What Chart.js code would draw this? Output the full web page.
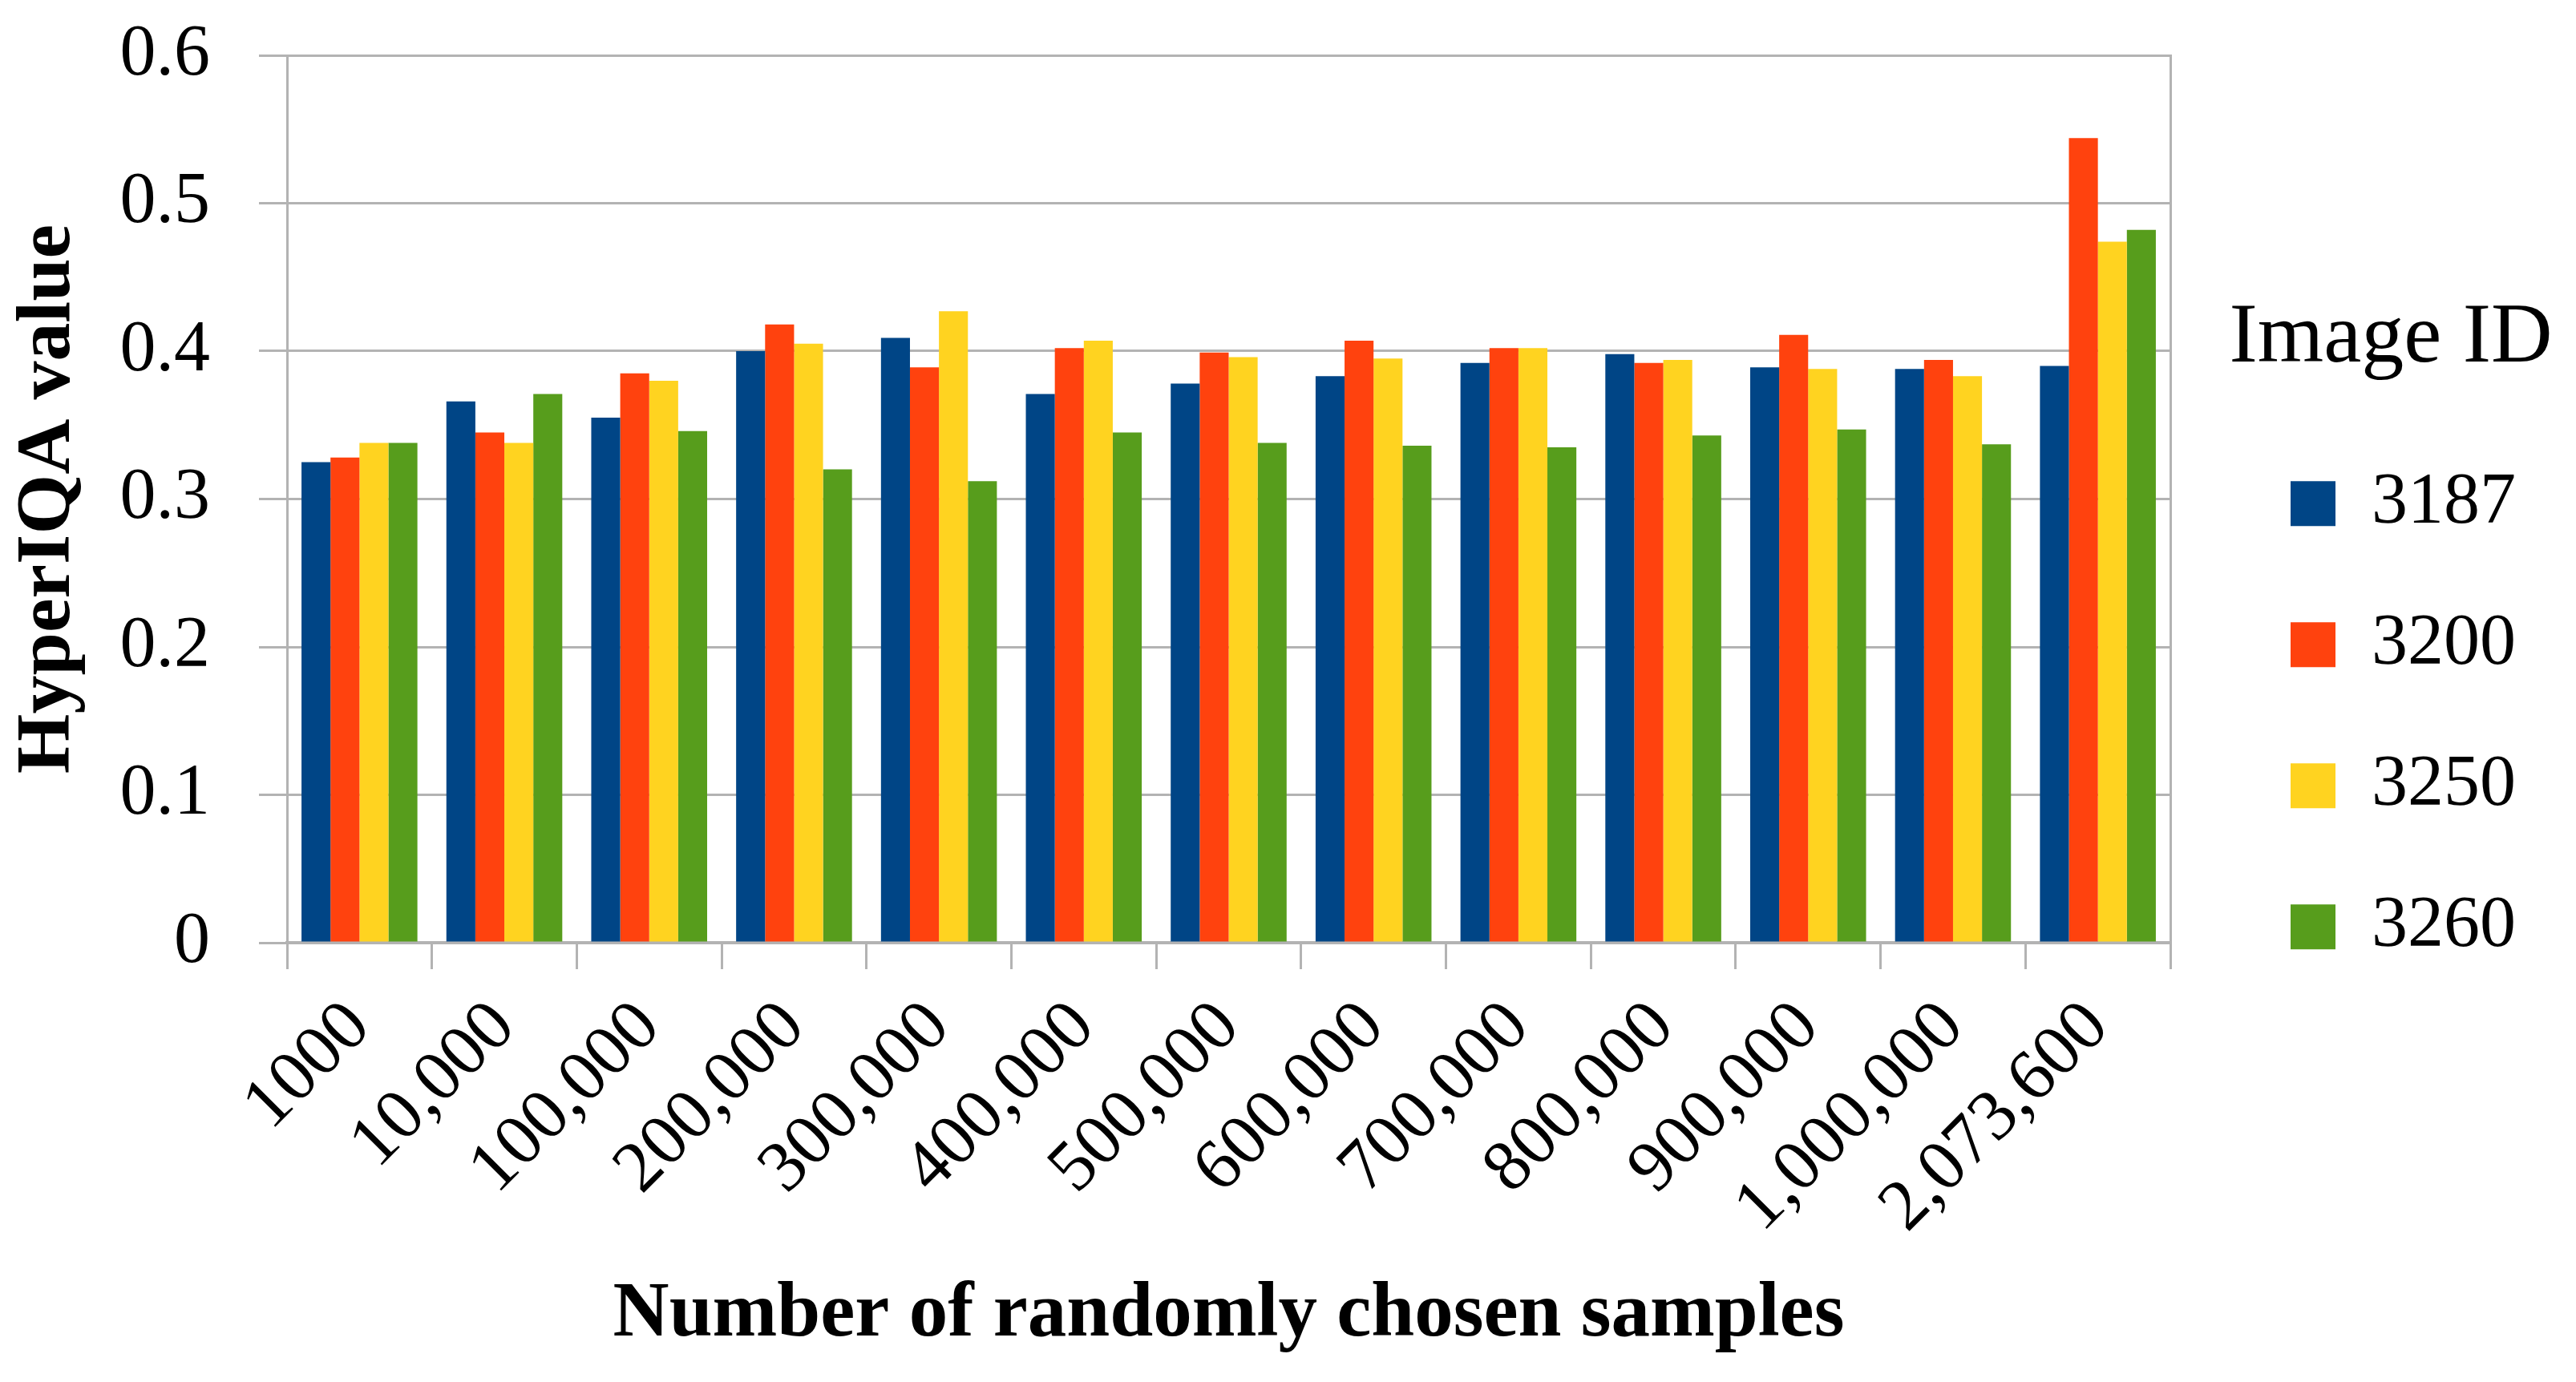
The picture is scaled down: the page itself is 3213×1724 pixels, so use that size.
<!DOCTYPE html>
<html>
<head>
<meta charset="utf-8">
<script src="https://cdn.jsdelivr.net/npm/chart.js@4.4.0/dist/chart.umd.min.js"></script>
<style>
  html, body { margin: 0; padding: 0; background: #fff; }
</style>
</head>
<body>
<canvas id="chart" width="3213" height="1724"></canvas>
<script>
// categories on the x axis
const categories = ['1000', '10,000', '100,000', '200,000', '300,000', '400,000', '500,000',
                    '600,000', '700,000', '800,000', '900,000', '1,000,000', '2,073,600'];
const seriesNames = ['3187', '3200', '3250', '3260'];

// HyperIQA values per image ID
const img3187 = [0.325, 0.366, 0.355, 0.400, 0.409, 0.371, 0.378, 0.383, 0.392, 0.398, 0.389, 0.388, 0.390];
const img3200 = [0.328, 0.345, 0.385, 0.418, 0.389, 0.402, 0.399, 0.407, 0.402, 0.392, 0.411, 0.394, 0.544];
const img3250 = [0.338, 0.338, 0.380, 0.405, 0.427, 0.407, 0.396, 0.395, 0.402, 0.394, 0.388, 0.383, 0.474];
const img3260 = [0.338, 0.371, 0.346, 0.320, 0.312, 0.345, 0.338, 0.336, 0.335, 0.343, 0.347, 0.337, 0.482];

const yTicks = [0, 0.1, 0.2, 0.3, 0.4, 0.5, 0.6];

const colors = ['#004586', '#ff420e', '#ffd320', '#579d1c'];
const gridColor = '#b3b3b3';
const serif = 'Liberation Serif';

const allSeries = [img3187, img3200, img3250, img3260];

const datasets = allSeries.map((vals, i) => ({
    label: seriesNames[i],
    data: vals,
    backgroundColor: colors[i],
    borderWidth: 0,
    categoryPercentage: 0.8,
    barPercentage: 1.0
}));

const ctx = document.getElementById('chart').getContext('2d');
new Chart(ctx, {
    type: 'bar',
    data: { labels: categories, datasets: datasets },
    options: {
        responsive: false,
        animation: false,
        devicePixelRatio: 1,
        layout: { padding: { top: 69, right: 20, bottom: 0, left: 0 } },
        plugins: {
            tooltip: { enabled: false },
            legend: {
                position: 'right',
                align: 'start',
                title: {
                    display: true,
                    text: 'Image ID',
                    color: '#000',
                    font: { family: serif, size: 106 },
                    padding: { top: 301, bottom: 0 }
                },
                labels: {
                    color: '#000',
                    font: { family: serif, size: 90 },
                    boxWidth: 56,
                    boxHeight: 56,
                    padding: 86,
                    // two no-break spaces widen the legend box so the title is not clipped
                    generateLabels: chart => Chart.defaults.plugins.legend.labels.generateLabels(chart)
                        .map(item => Object.assign(item, { text: item.text + '\u00a0\u00a0' }))
                }
            }
        },
        scales: {
            x: {
                grid: {
                    offset: true,
                    drawOnChartArea: false,
                    tickColor: gridColor,
                    tickLength: 33,
                    lineWidth: 3
                },
                border: { display: true, color: gridColor, width: 4 },
                ticks: {
                    color: '#000',
                    font: { family: serif, size: 90 },
                    minRotation: 45,
                    maxRotation: 45,
                    padding: 20,
                    labelOffset: 0,
                    autoSkip: false
                },
                title: {
                    display: true,
                    text: 'Number of randomly chosen samples',
                    color: '#000',
                    font: { family: serif, size: 97, weight: 'bold' },
                    padding: { top: 0, bottom: 25 }
                },
                afterFit: scale => { scale.height = 548; }
            },
            y: {
                min: 0,
                max: 0.6,
                afterBuildTicks: scale => { scale.ticks = yTicks.map(v => ({ value: v })); },
                grid: {
                    color: gridColor,
                    tickLength: 35,
                    lineWidth: 3
                },
                border: { display: true, color: gridColor, width: 3 },
                ticks: {
                    color: '#000',
                    font: { family: serif, size: 90 },
                    padding: 61,
                    callback: v => (v === 0 ? '0' : v.toFixed(1))
                },
                title: {
                    display: true,
                    text: 'HyperIQA value',
                    color: '#000',
                    font: { family: serif, size: 96, weight: 'bold' },
                    padding: { top: 4, bottom: 0 }
                },
                afterFit: scale => {
                    scale.width = 358;
                    scale.paddingTop = 0;
                    scale.paddingBottom = 0;
                }
            },
            // right frame line of the plot, also keeps the legend off the bars
            yRight: {
                position: 'right',
                min: 0,
                max: 0.6,
                grid: { display: false },
                ticks: { display: false },
                border: { display: true, color: gridColor, width: 3 },
                afterFit: scale => { scale.width = 64; }
            }
        }
    }
});
</script>
</body>
</html>
